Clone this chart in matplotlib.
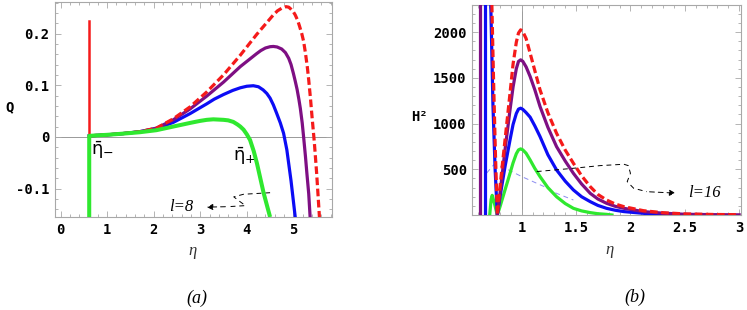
import numpy as np
import matplotlib
matplotlib.use('Agg')
import matplotlib.pyplot as plt
from matplotlib.ticker import MultipleLocator, FuncFormatter

# ---- panel (a): Q vs eta ----
eta_g = [0.615, 0.615, 0.8, 1.0, 1.3, 1.7, 2.06, 2.42, 2.78, 3.0, 3.14, 3.28, 3.5, 3.6, 3.71, 3.8, 3.86, 3.93, 4.0, 4.07, 4.15, 4.22, 4.29, 4.36, 4.44, 4.5]
Q_g = [-0.155, 0.002, 0.003, 0.004, 0.006, 0.009, 0.013, 0.020, 0.027, 0.031, 0.033, 0.034, 0.033, 0.032, 0.029, 0.024, 0.020, 0.014, 0.005, -0.006, -0.028, -0.052, -0.080, -0.108, -0.135, -0.155]

eta_b = [0.615, 0.8, 1.0, 1.3, 1.7, 2.06, 2.42, 2.78, 3.14, 3.3, 3.5, 3.7, 3.86, 4.0, 4.14, 4.25, 4.35, 4.43, 4.5, 4.57, 4.64, 4.72, 4.79, 4.86, 4.95, 5.04]
Q_b = [0.002, 0.003, 0.004, 0.006, 0.010, 0.016, 0.028, 0.045, 0.064, 0.073, 0.082, 0.090, 0.095, 0.098, 0.099, 0.097, 0.091, 0.084, 0.075, 0.062, 0.046, 0.027, 0.007, -0.025, -0.085, -0.155]

eta_p = [0.615, 0.8, 1.0, 1.3, 1.7, 2.06, 2.42, 2.78, 3.14, 3.5, 3.86, 4.21, 4.3, 4.4, 4.5, 4.57, 4.65, 4.75, 4.83, 4.9, 4.95, 5.0, 5.04, 5.08, 5.12, 5.15, 5.19, 5.22, 5.26, 5.29, 5.33, 5.36]
Q_p = [0.002, 0.003, 0.004, 0.006, 0.010, 0.017, 0.033, 0.054, 0.079, 0.106, 0.136, 0.161, 0.167, 0.172, 0.1745, 0.175, 0.174, 0.170, 0.163, 0.152, 0.140, 0.123, 0.108, 0.092, 0.072, 0.055, 0.027, 0.0, -0.038, -0.07, -0.11, -0.155]

eta_r = [0.615, 0.8, 1.0, 1.3, 1.7, 2.06, 2.42, 2.78, 3.14, 3.5, 3.86, 4.21, 4.57, 4.66, 4.75, 4.84, 4.9, 4.95, 5.0, 5.04, 5.09, 5.13, 5.18, 5.22, 5.26, 5.3, 5.33, 5.37, 5.40, 5.45, 5.5, 5.56]
Q_r = [0.002, 0.003, 0.004, 0.006, 0.010, 0.017, 0.035, 0.058, 0.087, 0.120, 0.158, 0.198, 0.236, 0.244, 0.249, 0.252, 0.251, 0.247, 0.242, 0.236, 0.226, 0.215, 0.200, 0.185, 0.162, 0.135, 0.110, 0.072, 0.040, -0.010, -0.070, -0.155]

eta_spike = [0.615, 0.615]
Q_spike = [0.0, 0.225]

# annotation path (l=8)
eta_a8 = [4.5, 3.93, 3.72, 3.85, 3.97, 3.6, 3.08]
Q_a8 = [-0.108, -0.111, -0.116, -0.125, -0.133, -0.135, -0.136]

xticks_a = [0, 1, 2, 3, 4, 5]
yticks_a = [-0.1, 0, 0.1, 0.2]

# ---- panel (b): H^2 vs eta ----
eta2_r = [0.725, 0.74, 0.757, 0.775, 0.80, 0.846, 0.892, 0.92, 0.95, 0.97, 0.99, 1.01, 1.04, 1.077, 1.12, 1.168, 1.24, 1.32, 1.4, 1.475, 1.55, 1.63, 1.7, 1.78, 1.86, 1.94, 2.12, 2.3, 2.5, 2.75, 3.0]
H2_r = [2300, 1500, 700, 0, 310, 821, 1332, 1650, 1890, 1990, 2025, 2005, 1930, 1770, 1580, 1369, 1120, 894, 710, 566, 430, 310, 225, 164, 120, 91, 47, 25, 12, 6, 3]

eta2_p = [0.775, 0.80, 0.846, 0.892, 0.92, 0.95, 0.97, 0.99, 1.01, 1.04, 1.077, 1.12, 1.168, 1.24, 1.32, 1.4, 1.475, 1.55, 1.63, 1.7, 1.78, 1.86, 1.94, 2.12, 2.3, 2.5, 2.75, 3.0]
H2_p = [0, 237, 712, 1150, 1400, 1600, 1680, 1697, 1680, 1620, 1515, 1370, 1187, 960, 748, 590, 456, 340, 237, 175, 128, 95, 73, 37, 20, 8, 4, 2]

eta2_b = [0.715, 0.735, 0.755, 0.775, 0.80, 0.846, 0.892, 0.92, 0.95, 0.97, 0.99, 1.01, 1.04, 1.077, 1.12, 1.168, 1.24, 1.32, 1.4, 1.475, 1.55, 1.63, 1.7, 1.78, 1.86, 1.94, 2.2, 2.5]
H2_b = [2300, 1200, 500, 0, 200, 529, 821, 990, 1110, 1158, 1168, 1155, 1120, 1070, 975, 858, 660, 493, 370, 274, 200, 146, 105, 73, 52, 37, 10, 0]

eta2_g = [0.705, 0.718, 0.728, 0.75, 0.775, 0.80, 0.846, 0.892, 0.92, 0.95, 0.97, 0.99, 1.01, 1.04, 1.077, 1.12, 1.168, 1.24, 1.32, 1.4, 1.475, 1.55, 1.63, 1.7, 1.78, 1.83]
H2_g = [0, 170, 215, 120, 0, 91, 274, 456, 570, 670, 712, 723, 712, 675, 602, 510, 420, 300, 200, 125, 73, 45, 26, 14, 7, 0]

eta2_pv = [0.615, 0.615]   # purple vertical branch
eta2_bv = [0.662, 0.662]   # blue vertical branch
H2_v = [0, 2300]

eta2_lb = [0.678, 0.74, 0.77, 0.85, 1.0, 1.2, 1.32, 1.475]
H2_lb = [460, 547, 551, 510, 420, 314, 237, 164]

eta_a16 = [1.138, 1.475, 1.72, 1.94, 1.98, 2.0, 1.97, 2.03, 2.15, 2.44]
H2_a16 = [475, 511, 540, 555, 540, 456, 365, 292, 255, 238]

xticks_b = [1, 1.5, 2, 2.5, 3]
yticks_b = [500, 1000, 1500, 2000]

GREEN = '#2fe82f'
BLUE = '#0c0cf5'
PURPLE = '#7e0f83'
RED = '#f51a1a'
FRAME = '#a8a8a8'
lw = 2.3

W, H = 747, 310
fig = plt.figure(figsize=(W / 100, H / 100), dpi=100)

ax1 = fig.add_axes([55 / W, 1 - 217 / H, 277 / W, 215 / H])
ax2 = fig.add_axes([472.3 / W, 1 - 215 / H, 268.7 / W, 210.3 / H])

tickfont = dict(family='DejaVu Sans Mono', weight='bold', size=10)


def style(ax):
    for s in ax.spines.values():
        s.set_color(FRAME)
        s.set_linewidth(0.8)
    ax.tick_params(which='both', direction='in', top=True, right=True,
                   color=FRAME, width=0.6)
    ax.tick_params(which='major', length=4, pad=4)
    ax.tick_params(which='minor', length=2)
    for lab in ax.get_xticklabels() + ax.get_yticklabels():
        lab.set_fontfamily(tickfont['family'])
        lab.set_fontweight(tickfont['weight'])
        lab.set_fontsize(tickfont['size'])


# panel (a)
ax1.axhline(0, color='#999999', lw=0.7, zorder=1)
ax1.plot(eta_spike, Q_spike, color=RED, lw=1.8, zorder=3)
ax1.plot(eta_g, Q_g, color=GREEN, lw=lw + 0.6, solid_capstyle='butt', zorder=4)
ax1.plot(eta_b, Q_b, color=BLUE, lw=lw, zorder=3)
ax1.plot(eta_p, Q_p, color=PURPLE, lw=lw, zorder=3)
ax1.plot(eta_r, Q_r, color=RED, lw=lw, ls=(0, (2.4, 1.1)), zorder=3)
ax1.plot(eta_a8[:-1], Q_a8[:-1], color='black', lw=0.7, ls=(0, (5, 4)))
ax1.annotate('', xy=(eta_a8[-1], Q_a8[-1]), xytext=(eta_a8[-2], Q_a8[-2]),
             arrowprops=dict(arrowstyle='-|>', color='black', lw=0.7,
                             ls=(0, (5, 4)), mutation_scale=9))
ax1.text(2.85, -0.136, 'l=8', family='Liberation Serif', style='italic',
         fontsize=12, ha='right', va='center')
ax1.text(0.65, -0.004, r'$\bar{\mathrm{\eta}}_{-}$', fontsize=13, ha='left', va='top')
ax1.text(3.7, -0.017, r'$\bar{\mathrm{\eta}}_{+}$', fontsize=13, ha='left', va='top')

ax1.set_xlim(-0.12, 5.83)
ax1.set_ylim(-0.155, 0.261)
ax1.set_xticks(xticks_a)
ax1.set_yticks(yticks_a)
ax1.xaxis.set_minor_locator(MultipleLocator(0.2))
ax1.yaxis.set_minor_locator(MultipleLocator(0.02))
ax1.yaxis.set_major_formatter(FuncFormatter(lambda v, p: '0' if abs(v) < 1e-9 else f'{v:.1f}'))
style(ax1)

# panel (b)
ax2.axvline(1, color='#999999', lw=0.7, zorder=1)
ax2.plot(eta2_lb, H2_lb, color='#8c8cf0', lw=0.7, ls=(0, (5, 4)), zorder=2)
ax2.plot(eta2_pv, H2_v, color=PURPLE, lw=lw, zorder=3)
ax2.plot(eta2_bv, H2_v, color=BLUE, lw=lw, zorder=3)
ax2.plot(eta2_g, H2_g, color=GREEN, lw=lw, zorder=3)
ax2.plot(eta2_b, H2_b, color=BLUE, lw=lw, zorder=3)
ax2.plot(eta2_p, H2_p, color=PURPLE, lw=lw, zorder=3)
ax2.plot(eta2_r, H2_r, color=RED, lw=lw, ls=(0, (2.4, 1.1)), zorder=3)
ax2.plot(eta_a16[:-1], H2_a16[:-1], color='black', lw=0.7, ls=(0, (5, 4)), zorder=4)
ax2.annotate('', xy=(eta_a16[-1], H2_a16[-1]), xytext=(eta_a16[-2], H2_a16[-2]),
             arrowprops=dict(arrowstyle='-|>', color='black', lw=0.7,
                             ls=(0, (5, 4)), mutation_scale=9))
ax2.text(2.53, 236, 'l=16', family='Liberation Serif', style='italic',
         fontsize=12, ha='left', va='center')

ax2.set_xlim(0.545, 3.017)
ax2.set_ylim(0, 2300)
ax2.set_xticks(xticks_b)
ax2.set_yticks(yticks_b)
ax2.xaxis.set_minor_locator(MultipleLocator(0.1))
ax2.yaxis.set_minor_locator(MultipleLocator(100))
ax2.xaxis.set_major_formatter(FuncFormatter(lambda v, p: f'{v:g}'))
style(ax2)

# axis labels and captions
fig.text(10 / W, 1 - 107 / H, 'Q', ha='center', va='center', **tickfont)
fig.text(419 / W, 1 - 117 / H, 'H²', ha='center', va='center', **tickfont)
fig.text(193 / W, 1 - 251 / H, 'η', family='Liberation Serif', style='italic',
         fontsize=12, ha='center', va='center', color='#333333')
fig.text(610 / W, 1 - 250 / H, 'η', family='Liberation Serif', style='italic',
         fontsize=12, ha='center', va='center', color='#333333')
fig.text(197 / W, 1 - 298 / H, '(a)', family='Liberation Serif', style='italic',
         fontsize=13, ha='center', va='center')
fig.text(635 / W, 1 - 297 / H, '(b)', family='Liberation Serif', style='italic',
         fontsize=13, ha='center', va='center')

fig.savefig('out.png', dpi=100)
